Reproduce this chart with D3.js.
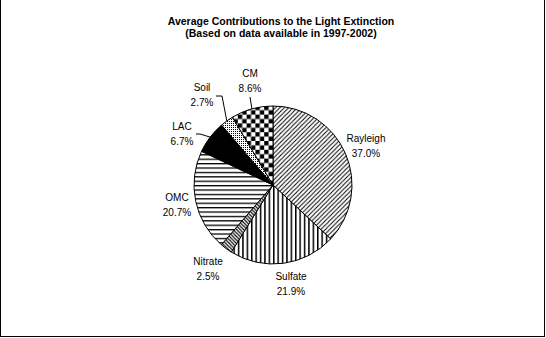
<!DOCTYPE html>
<html><head><meta charset="utf-8">
<script src="https://cdn.jsdelivr.net/npm/d3@7"></script>
<style>body{margin:0;background:#fff}svg{display:block}</style>
</head><body>
<script>
const title = ["Average Contributions to the Light Extinction", "(Based on data available in 1997-2002)"];
const categories = ["Rayleigh", "Sulfate", "Nitrate", "OMC", "LAC", "Soil", "CM"];
const values = [37.0, 21.9, 2.5, 20.7, 6.7, 2.7, 8.6];
const valueLabels = ["37.0%", "21.9%", "2.5%", "20.7%", "6.7%", "2.7%", "8.6%"];
const fills = ["url(#pRay)", "url(#pSul)", "url(#pNit)", "url(#pOmc)", "#000", "url(#pSoil)", "url(#pCm)"];
// label anchor (center x, first baseline) and leader bend points
const labelPos = [[366,142],[291,280],[208,265],[177,201],[182,130],[202,91],[250,77]];
const leaders = [null, null, null, null, [[196,134],[200,134]], [[216,96],[222,96]], [[250,97]]];

const W = 546, H = 338;
const svg = d3.select("body").append("svg").attr("width", W).attr("height", H)
  .style("font-family", "'Liberation Sans', Arial, sans-serif");

const defs = svg.append("defs");
const P = 4.4;
function pat(id, w, h, draw){
  const p = defs.append("pattern").attr("id", id).attr("patternUnits","userSpaceOnUse")
    .attr("width", w).attr("height", h);
  p.append("rect").attr("width", w).attr("height", h).attr("fill", "#fff");
  draw(p);
}
pat("pRay", P, P, p => p.append("path").attr("d", `M0,${P} L${P},0 M${-P/2},${P/2} L${P/2},${-P/2} M${P/2},${1.5*P} L${1.5*P},${P/2}`).attr("stroke","#000").attr("stroke-width",1));
pat("pNit", P*0.8, P*0.8, p => { const q=P*0.8; p.append("path").attr("d", `M0,0 L${q},${q} M${-q/2},${q/2} L${q/2},${1.5*q} M${q/2},${-q/2} L${1.5*q},${q/2}`).attr("stroke","#000").attr("stroke-width",1.1);});
pat("pSul", P, P, p => p.append("rect").attr("x",0).attr("y",0).attr("width",1.5).attr("height",P).attr("fill","#000"));
pat("pOmc", P, P, p => p.append("rect").attr("x",0).attr("y",0).attr("width",P).attr("height",1.3).attr("fill","#000"));
pat("pSoil", 2, 2, p => p.append("rect").attr("x",0).attr("y",0).attr("width",1).attr("height",1).attr("fill","#000"));
pat("pCm", 2*P, 2*P, p => { p.append("rect").attr("width",P).attr("height",P).attr("fill","#000"); p.append("rect").attr("x",P).attr("y",P).attr("width",P).attr("height",P).attr("fill","#000"); });

// frame
svg.append("rect").attr("x",0.5).attr("y",-1).attr("width",544).attr("height",337.5)
  .attr("fill","none").attr("stroke","#000").attr("stroke-width",1);

// title
svg.append("g").selectAll("text").data(title).join("text")
  .attr("x", 281).attr("y", (d,i) => 25 + i*12)
  .attr("text-anchor","middle").attr("font-size","10.5px").attr("font-weight","bold").text(d => d);

const cx = 273, cy = 185, r = 79;
const pie = d3.pie().sort(null).value(d => d)(values);
const arc = d3.arc().innerRadius(0).outerRadius(r);
const g = svg.append("g").attr("transform", `translate(${cx},${cy})`);
g.selectAll("path").data(pie).join("path")
  .attr("d", arc).attr("fill", (d,i) => fills[i])
  .attr("stroke","#000").attr("stroke-width",1);

// leader lines
const lineGen = d3.line();
pie.forEach((d,i) => {
  if (!leaders[i]) return;
  const a = (d.startAngle + d.endAngle)/2;
  const end = [cx + r*Math.sin(a), cy - r*Math.cos(a)];
  svg.append("path").attr("d", lineGen(leaders[i].concat([end])))
    .attr("fill","none").attr("stroke","#000").attr("stroke-width",1);
});

// labels
const lab = svg.append("g").attr("font-size","10px").attr("text-anchor","middle");
categories.forEach((c,i) => {
  const [x,y] = labelPos[i];
  lab.append("text").attr("x",x).attr("y",y).text(c);
  lab.append("text").attr("x",x).attr("y",y+15).text(valueLabels[i]);
});
</script>
</body></html>
